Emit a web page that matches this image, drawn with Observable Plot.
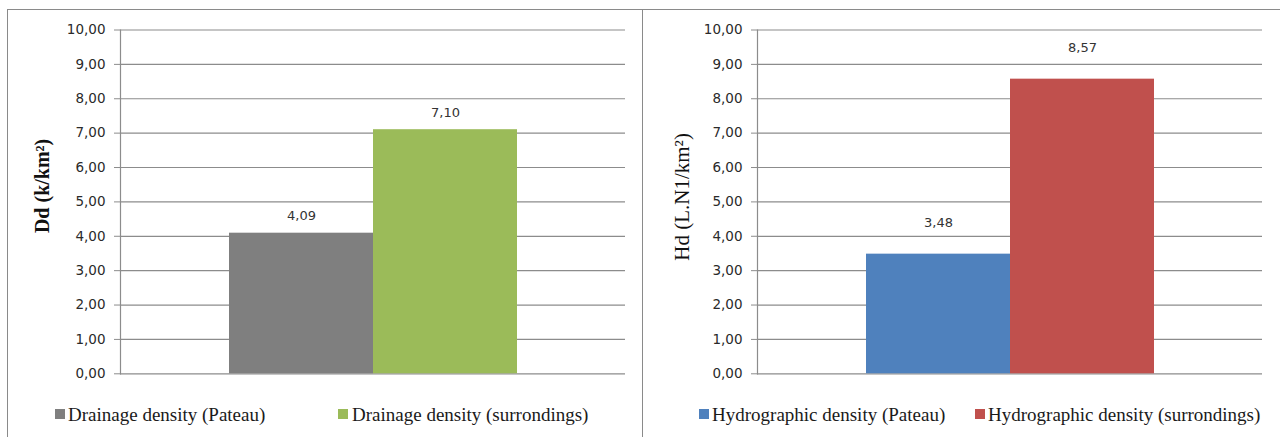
<!DOCTYPE html>
<html>
<head>
<meta charset="utf-8">
<script src="https://cdn.jsdelivr.net/npm/d3@7"></script>
<script src="https://cdn.jsdelivr.net/npm/@observablehq/plot@0.6"></script>
<style>
  html, body { margin: 0; padding: 0; background: #fff; }
  body { width: 1280px; height: 437px; position: relative; overflow: hidden; }
  .abs { position: absolute; }
  .legtext { position: absolute; font-family: "Liberation Serif", "Times New Roman", serif; font-size: 19px; line-height: 19px; color: #1a1a1a; white-space: nowrap; }
  .sw { position: absolute; width: 10px; height: 10px; }
</style>
</head>
<body>
<div class="abs" style="left:7px;top:9px;width:634px;height:440px;border-left:1px solid #8a8a8a;border-top:1px solid #8a8a8a;border-right:1px solid #8a8a8a;"></div>
<div class="abs" style="left:643px;top:9px;width:650px;height:440px;border-top:1px solid #8a8a8a;"></div>
<div id="left" class="abs" style="left:8px;top:10px;"></div>
<div id="right" class="abs" style="left:643px;top:10px;"></div>
<div id="legend"></div>
<script>
// ---- data ----
const yTicks = [0, 1, 2, 3, 4, 5, 6, 7, 8, 9, 10];

const drainageSeries = ["Drainage density (Pateau)", "Drainage density (surrondings)"];
const drainageValues = [4.09, 7.10];
const drainageColors = ["#7f7f7f", "#9bbb59"];
const drainageTitle = "Dd (k/km²)";

const hydroSeries = ["Hydrographic density (Pateau)", "Hydrographic density (surrondings)"];
const hydroValues = [3.48, 8.57];
const hydroColors = ["#4f81bd", "#c0504d"];
const hydroTitle = "Hd (L.N1/km²)";

// ---- helpers ----
const fmt = d => d.toFixed(2).replace(".", ",");
const gridColor = "#8c8c8c";

function chart({series, values, colors, title, width, marginLeft, marginRight, labelDy, titleDx, titleDy, titleWeight, titleSize}) {
  const data = series.map((s, i) => ({series: s, value: values[i]}));
  return Plot.plot({
    width,
    height: 380,
    marginLeft,
    marginRight,
    marginTop: 19.5,
    marginBottom: 16.7,
    style: {fontFamily: "'DejaVu Sans', Verdana, sans-serif", fontSize: "13px", color: "#333", background: "transparent", overflow: "visible"},
    x: {type: "band", domain: series, paddingInner: 0, paddingOuter: 0.753, axis: null},
    y: {domain: [0, 10], axis: null},
    color: {domain: series, range: colors},
    marks: [
      Plot.ruleY(yTicks, {stroke: gridColor, strokeWidth: 1.2}),
      Plot.barY(data, {x: "series", y: "value", fill: "series", inset: 0}),
      Plot.axisY({ticks: yTicks, tickFormat: fmt, tickSize: 6, tickPadding: 9, label: null, stroke: gridColor, strokeOpacity: 1, fontSize: 13.5, fill: "#2a2a2a"}),
      Plot.frame({anchor: "left", stroke: gridColor, strokeWidth: 1.2}),
      Plot.text(data, {x: "series", y: "value", text: d => fmt(d.value), dy: labelDy, fontSize: 13, fill: "#333"}),
      Plot.text([title], {frameAnchor: "left", text: d => d, textAnchor: "middle", rotate: -90, dx: titleDx, dy: titleDy,
        fontFamily: "'Liberation Serif', 'Times New Roman', serif", fontSize: titleSize, fontWeight: titleWeight, fill: "#111"})
    ]
  });
}

document.getElementById("left").append(chart({
  series: drainageSeries, values: drainageValues, colors: drainageColors, title: drainageTitle,
  width: 634, marginLeft: 112, marginRight: 17, labelDy: -17, titleDx: -78, titleDy: -16, titleWeight: "bold", titleSize: 20
}));
document.getElementById("right").append(chart({
  series: hydroSeries, values: hydroValues, colors: hydroColors, title: hydroTitle,
  width: 637, marginLeft: 114, marginRight: 18, labelDy: -31, titleDx: -75, titleDy: -5, titleWeight: "normal", titleSize: 21
}));

// ---- legends ----
const legendItems = [
  {label: drainageSeries[0], color: drainageColors[0], sq: 55, tx: 68},
  {label: drainageSeries[1], color: drainageColors[1], sq: 338, tx: 352},
  {label: hydroSeries[0], color: hydroColors[0], sq: 699, tx: 712},
  {label: hydroSeries[1], color: hydroColors[1], sq: 975, tx: 988}
];
const leg = document.getElementById("legend");
for (const it of legendItems) {
  const s = document.createElement("div");
  s.className = "sw";
  s.style.left = it.sq + "px";
  s.style.top = "409px";
  s.style.background = it.color;
  leg.append(s);
  const t = document.createElement("div");
  t.className = "legtext";
  t.style.left = it.tx + "px";
  t.style.top = "405px";
  t.textContent = it.label;
  leg.append(t);
}
</script>
</body>
</html>
